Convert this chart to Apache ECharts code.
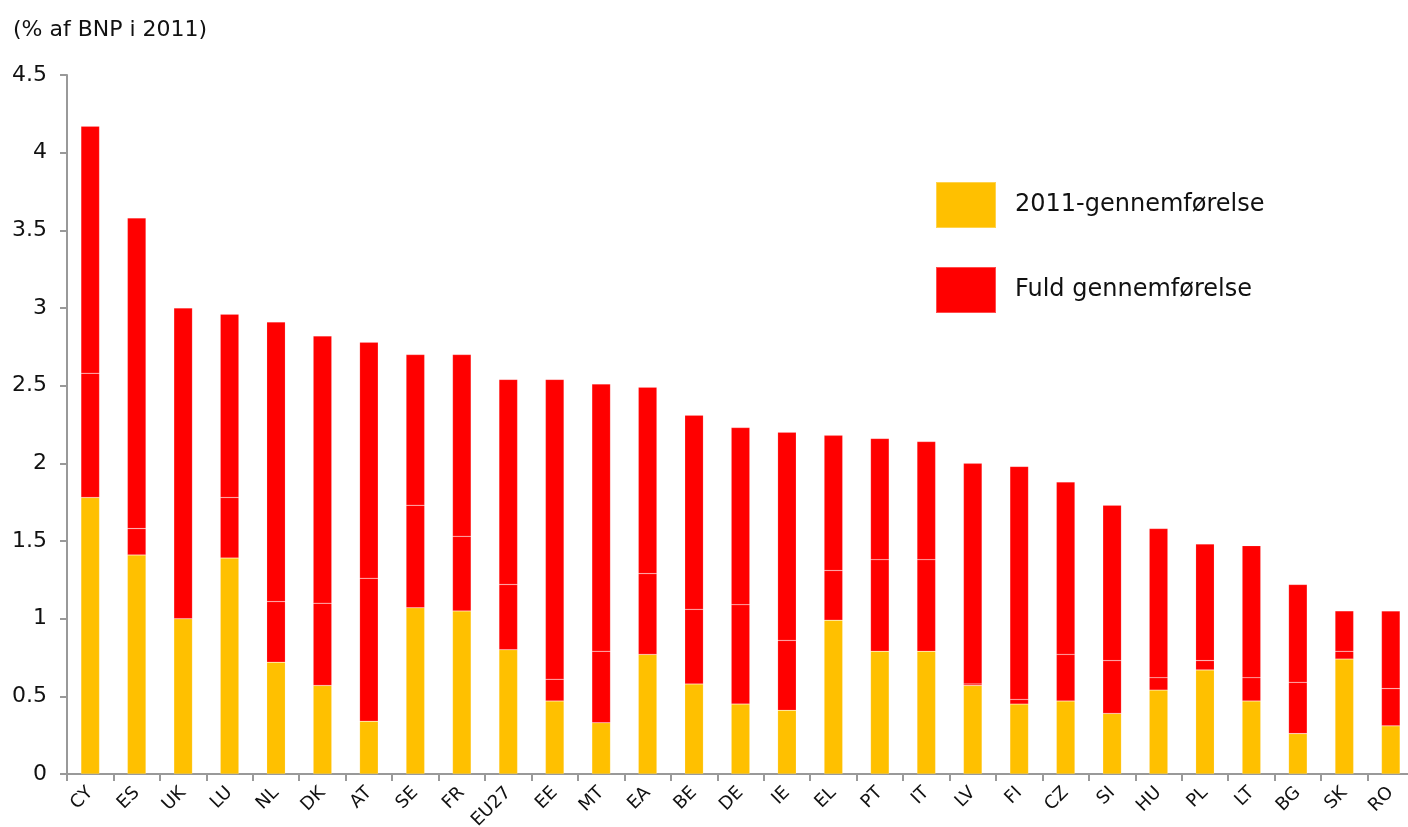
<!DOCTYPE html>
<html>
<head>
<meta charset="utf-8">
<script src="https://cdn.jsdelivr.net/npm/echarts@6/dist/echarts.min.js"></script>
<style>
  html, body { margin: 0; padding: 0; background: #fff; }
  #main { width: 1408px; height: 827px; }
</style>
</head>
<body>
<div id="main"></div>
<script>
var lande = ['CY','ES','UK','LU','NL','DK','AT','SE','FR','EU27','EE','MT','EA','BE','DE','IE','EL','PT','IT','LV','FI','CZ','SI','HU','PL','LT','BG','SK','RO'];

// 2011-gennemførelse (gul del)
var aar2011 = [1.78,1.41,1.00,1.39,0.72,0.57,0.34,1.07,1.05,0.80,0.47,0.33,0.77,0.58,0.45,0.41,0.99,0.79,0.79,0.57,0.45,0.47,0.39,0.54,0.67,0.47,0.26,0.74,0.31];
// kumuleret niveau ved den svage skillelinje i den røde del
var midt = [2.58,1.58,1.00,1.78,1.11,1.10,1.26,1.73,1.53,1.22,0.61,0.79,1.29,1.06,1.09,0.86,1.31,1.38,1.38,0.58,0.48,0.77,0.73,0.62,0.73,0.62,0.59,0.79,0.55];
// fuld gennemførelse (samlet højde)
var fuld = [4.17,3.58,3.00,2.96,2.91,2.82,2.78,2.70,2.70,2.54,2.54,2.51,2.49,2.31,2.23,2.20,2.18,2.16,2.14,2.00,1.98,1.88,1.73,1.58,1.48,1.47,1.22,1.05,1.05];

var yTicks = ['0','0.5','1','1.5','2','2.5','3','3.5','4','4.5'];

var rod1 = midt.map(function(v, i){ return +(v - aar2011[i]).toFixed(2); });
var rod2 = fuld.map(function(v, i){ return +(v - midt[i]).toFixed(2); });

var myChart = echarts.init(document.getElementById('main'));
var font = 'Verdana, "DejaVu Sans", sans-serif';
var kant = 'rgba(255,255,255,0.3)';

var option = {
  animation: false,
  textStyle: { fontFamily: font },
  title: {
    text: '(% af BNP i 2011)',
    left: 8, top: 14,
    textStyle: { fontSize: 22, fontWeight: 'normal', color: '#111', fontFamily: font }
  },
  legend: {
    data: ['2011-gennemførelse','Fuld gennemførelse'],
    orient: 'vertical',
    left: 935, top: 181,
    itemWidth: 60, itemHeight: 46, itemGap: 37,
    icon: 'rect',
    padding: 0,
    textStyle: { fontSize: 24, color: '#111', padding: [0,0,0,14], fontFamily: font }
  },
  grid: { left: 67, top: 75, width: 1347, height: 699, outerBoundsMode: 'none', containLabel: false },
  xAxis: {
    type: 'category',
    data: lande,
    axisLine: { lineStyle: { color: '#999', width: 2 } },
    axisTick: { show: true, length: 7, lineStyle: { color: '#999', width: 2 } },
    axisLabel: { rotate: 45, fontSize: 18, color: '#111', margin: 16, interval: 0 }
  },
  yAxis: {
    type: 'value',
    min: 0, max: 4.5, interval: 0.5,
    splitLine: { show: false },
    axisLine: { show: true, lineStyle: { color: '#999', width: 2 } },
    axisTick: { show: true, length: 7, lineStyle: { color: '#999', width: 2 } },
    axisLabel: {
      fontSize: 22, color: '#111', margin: 20,
      formatter: function(v){ return yTicks[Math.round(v / 0.5)]; }
    }
  },
  series: [
    {
      name: '2011-gennemførelse', type: 'bar', stack: 'tot', barWidth: '40%',
      itemStyle: { color: '#FFC000', borderColor: kant, borderWidth: 0.5 },
      data: aar2011
    },
    {
      name: 'Fuld gennemførelse', type: 'bar', stack: 'tot', barWidth: '40%',
      itemStyle: { color: '#FF0000', borderColor: kant, borderWidth: 0.5 },
      data: rod1
    },
    {
      name: 'Fuld gennemførelse', type: 'bar', stack: 'tot', barWidth: '40%',
      itemStyle: { color: '#FF0000', borderColor: kant, borderWidth: 0.5 },
      data: rod2
    }
  ]
};
myChart.setOption(option);
</script>
</body>
</html>
